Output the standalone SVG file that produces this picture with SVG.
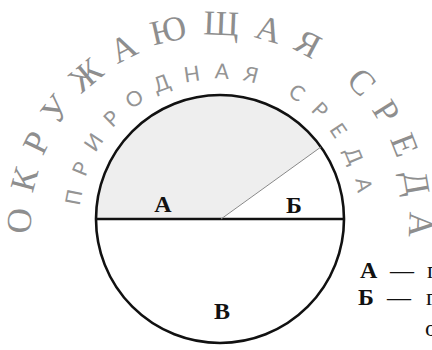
<svg xmlns="http://www.w3.org/2000/svg" width="432" height="350" viewBox="0 0 432 350">
<style>
.arcOuter{font-family:"Liberation Serif","DejaVu Serif",serif;font-size:35px;fill:#8e8e8e;letter-spacing:15px}
.arcInner{font-family:Lato,"Liberation Sans",sans-serif;font-weight:400;font-size:21px;fill:#949494;letter-spacing:13.8px}
.lbl{font-family:"Liberation Serif","DejaVu Serif",serif;font-weight:bold;font-size:24px;fill:#111;text-anchor:middle}
.leg{font-family:"Liberation Serif","DejaVu Serif",serif;font-size:24px;fill:#111}
.b{font-weight:bold}
</style>
<defs>
<path id="outerArc" d="M34.2,258.8 A189,189 0 1 1 405.8,258.8" fill="none"/>
<path id="innerArc" d="M81.7,243.4 A140.4,140.4 0 1 1 358.3,243.4" fill="none"/>
</defs>
<rect width="432" height="350" fill="#fff"/>
<g id="outer-label">
<text class="arcOuter"><textPath href="#outerArc" startOffset="25">ОКРУЖАЮЩАЯ СРЕДА</textPath></text>
</g>
<g id="inner-label">
<text class="arcInner"><textPath href="#innerArc" startOffset="37.2">ПРИРОДНАЯ СРЕДА</textPath></text>
</g>
<g id="circle">
<path d="M96,219 A124,124 0 0 1 320.9,147 L220,219 Z" fill="#eeeeee"/>
<circle cx="220" cy="219" r="124" fill="none" stroke="#111" stroke-width="2.6"/>
</g>
<g id="connectors">
<line x1="96" y1="219" x2="344" y2="219" stroke="#111" stroke-width="2.6"/>
<line x1="221" y1="219" x2="320.9" y2="147" stroke="#888" stroke-width="1"/>
</g>
<g id="A"><text class="lbl" x="163" y="212">А</text></g>
<g id="B"><text class="lbl" x="294" y="213">Б</text></g>
<g id="V"><text class="lbl" x="222" y="319">В</text></g>
<g id="legend">
<text class="leg" y="278"><tspan class="b" x="360">А</tspan><tspan x="390">—</tspan><tspan x="427">г</tspan></text>
<text class="leg" y="305"><tspan class="b" x="358">Б</tspan><tspan x="387">—</tspan><tspan x="426">г</tspan></text>
<text class="leg" x="425" y="336">о</text>
</g>
</svg>
